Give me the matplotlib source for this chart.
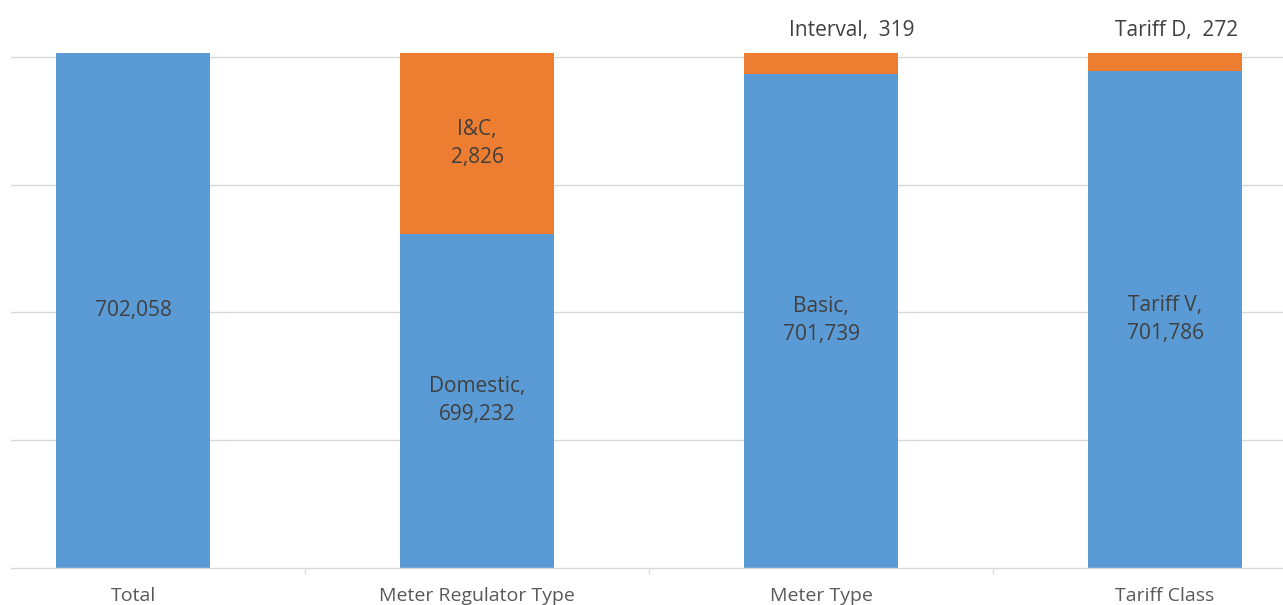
import matplotlib
matplotlib.use("Agg")
import matplotlib.pyplot as plt
from matplotlib.ticker import FuncFormatter

# meter counts by category, split into the two groups of each breakdown
categories = ["Total", "Meter Regulator Type", "Meter Type", "Tariff Class"]
main_names = ["", "Domestic", "Basic", "Tariff V"]
main_values = [702058, 699232, 701739, 701786]
minor_names = ["", "I&C", "Interval", "Tariff D"]
minor_values = [0, 2826, 319, 272]

BLUE = "#5B9BD5"
ORANGE = "#ED7D31"
GRID = "#D9D9D9"
TEXT = "#404040"

plt.rcParams["font.family"] = ["Open Sans", "DejaVu Sans"]

fig = plt.figure(figsize=(12.83, 6.05), dpi=100)
ax = fig.add_axes([11 / 1283, 37 / 605, 1 - 11 / 1283, 568 / 605])

y0, y1 = 694000, 702892
x = list(range(len(categories)))
width = 0.45

ax.bar(x, main_values, width, color=BLUE, zorder=2)
ax.bar(x, minor_values, width, bottom=main_values, color=ORANGE, zorder=2)

ax.set_xlim(-0.3547, 3.343)
ax.set_ylim(y0, y1)

# gridlines only, no value labels on the y axis
ax.set_yticks([696000, 698000, 700000, 702000])
ax.yaxis.set_major_formatter(FuncFormatter(lambda v, p: ""))
ax.tick_params(axis="y", length=0)
ax.grid(axis="y", color=GRID, linewidth=1.0, zorder=0)

ax.set_xticks(x)
ax.set_xticklabels(categories, fontsize=14, color="#595959")
ax.set_xticks([0.5, 1.5, 2.5], minor=True)
ax.tick_params(axis="x", which="major", length=0, pad=14)
ax.tick_params(axis="x", which="minor", length=4, color=GRID, width=1)

for s in ["top", "left", "right"]:
    ax.spines[s].set_visible(False)
ax.spines["bottom"].set_color(GRID)
ax.spines["bottom"].set_linewidth(1.0)

fmt = lambda v: f"{v:,}"
lab = dict(ha="center", va="center", fontsize=15, color=TEXT, linespacing=1.45, zorder=3)

for i in x:
    lo = max(y0, 0)
    top = main_values[i]
    mid = (lo + top) / 2
    if main_names[i]:
        ax.text(i, mid, f"{main_names[i]},\n{fmt(main_values[i])}", **lab)
    else:
        ax.text(i, mid, fmt(main_values[i]), **lab)

    if minor_values[i] == 0:
        continue
    seg_top = main_values[i] + minor_values[i]
    seg_h = (minor_values[i]) / (y1 - y0) * 568
    if seg_h > 60:
        ax.text(i, (top + seg_top) / 2, f"{minor_names[i]},\n{fmt(minor_values[i])}", **lab)
    else:
        # small segments get their label above the bar
        ax.annotate(f"{minor_names[i]},  {fmt(minor_values[i])}", (i, seg_top),
                    xytext=(22 if i == 2 else 8, 9), textcoords="offset points",
                    ha="center", va="bottom", fontsize=15, color=TEXT)

fig.savefig("out.png", dpi=100)
